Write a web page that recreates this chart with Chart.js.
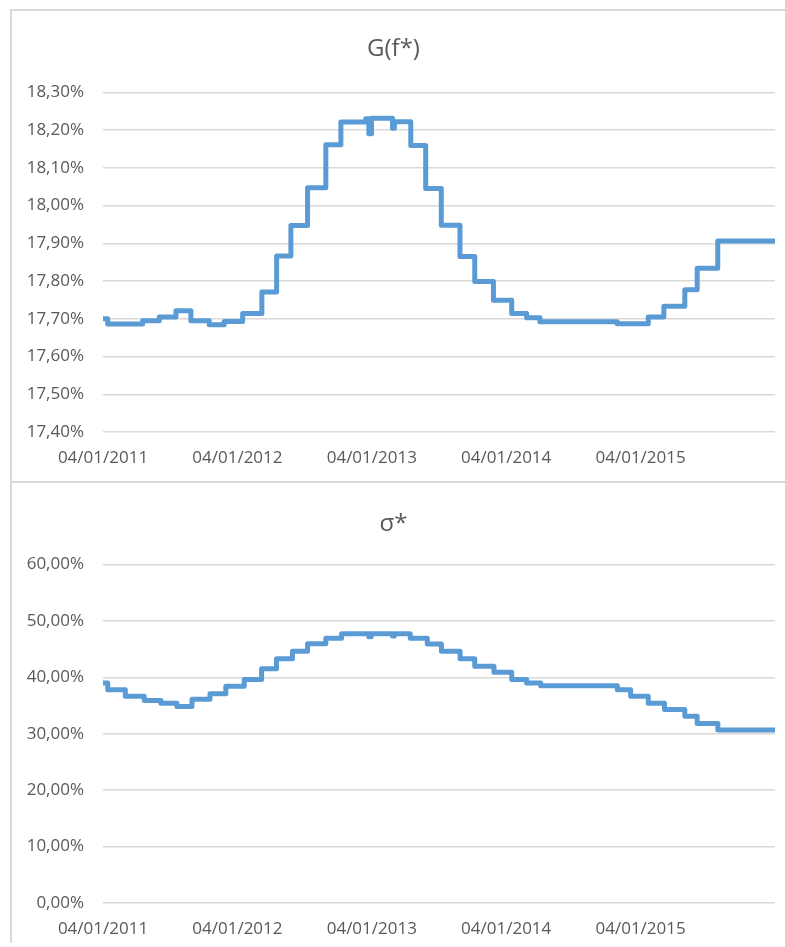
<!DOCTYPE html>
<html>
<head>
<meta charset="utf-8">
<script src="https://cdn.jsdelivr.net/npm/chart.js@4.4.1/dist/chart.umd.min.js"></script>
<style>
  html, body { margin: 0; padding: 0; background: #fff; }
  #frame {
    position: absolute; left: 10px; top: 9px; width: 773px; height: 932px;
    border-left: 2px solid #d9d9d9; border-top: 2px solid #d9d9d9;
  }
  .box { position: relative; width: 773px; }
</style>
</head>
<body>
<div id="frame">
  <div class="box" style="height:470px;"><canvas id="gChart"></canvas></div>
  <div class="box" style="height:460px;border-top:2px solid #d9d9d9;"><canvas id="sChart"></canvas></div>
</div>
<script>
// x positions are years after 04/01/2011, each point starts a new step
const xTickLabels = ['04/01/2011', '04/01/2012', '04/01/2013', '04/01/2014', '04/01/2015'];

// G(f*) in %
const gX = [0, 0.035, 0.295, 0.419, 0.543, 0.654, 0.790, 0.902, 1.039, 1.182, 1.292, 1.398, 1.522, 1.658, 1.770,
            1.955, 1.978, 1.998, 2.154, 2.168, 2.290, 2.401, 2.517, 2.656, 2.766, 2.905, 3.041, 3.152, 3.251,
            3.826, 4.057, 4.173, 4.329, 4.421, 4.574, 5.0];
const gY = [17.700, 17.686, 17.695, 17.705, 17.721, 17.695, 17.684, 17.693, 17.714, 17.771, 17.866, 17.947, 18.047, 18.161, 18.221,
            18.230, 18.190, 18.231, 18.205, 18.222, 18.159, 18.045, 17.948, 17.865, 17.799, 17.749, 17.714, 17.703, 17.692,
            17.687, 17.705, 17.733, 17.777, 17.834, 17.906, 17.906];

// sigma* in %
const sX = [0, 0.035, 0.166, 0.307, 0.431, 0.550, 0.662, 0.796, 0.914, 1.051, 1.180, 1.291, 1.410, 1.522, 1.658, 1.775,
            1.978, 1.995, 2.154, 2.168, 2.286, 2.413, 2.518, 2.657, 2.766, 2.909, 3.041, 3.152, 3.257,
            3.827, 3.926, 4.057, 4.178, 4.329, 4.421, 4.575, 5.0];
const sY = [39.0, 37.8, 36.65, 35.9, 35.4, 34.8, 36.1, 37.1, 38.4, 39.6, 41.5, 43.3, 44.6, 45.95, 46.9, 47.7,
            47.2, 47.7, 47.3, 47.7, 46.9, 45.9, 44.6, 43.3, 41.95, 40.9, 39.6, 39.0, 38.5,
            37.8, 36.65, 35.4, 34.3, 33.1, 31.8, 30.65, 30.65];

const FONT = "'Open Sans', 'Noto Sans', sans-serif";
const TEXT = '#595959';
const GRID = '#d9d9d9';
const LINE = '#5b9bd5';

function pct(v){ return (Math.round(v * 100) / 100).toFixed(2).replace('.', ',') + '%'; }

function makeChart(id, title, xs, ys, yMin, yMax, yStep, pad){
  const ctx = document.getElementById(id).getContext('2d');
  return new Chart(ctx, {
    type: 'line',
    data: {
      datasets: [{
        data: xs.map((x, i) => ({ x: x, y: ys[i] })),
        stepped: true,
        borderColor: LINE,
        borderWidth: 5,
        borderJoinStyle: 'round',
        borderCapStyle: 'round',
        pointRadius: 0,
        fill: false
      }]
    },
    options: {
      responsive: true,
      maintainAspectRatio: false,
      animation: false,
      layout: { padding: { top: pad.top, bottom: 0, left: 0, right: 10 } },
      plugins: {
        legend: { display: false },
        tooltip: { enabled: false },
        title: {
          display: true, text: title, color: TEXT,
          font: { family: FONT, size: 24, weight: 'normal' },
          padding: { top: 10, bottom: pad.titleBottom }
        }
      },
      scales: {
        x: {
          type: 'linear', min: 0, max: 5,
          grid: { display: false, drawTicks: false },
          border: { display: false },
          afterBuildTicks: (scale) => { scale.ticks = scale.ticks.filter(t => t.value < 5); },
          afterFit: (scale) => { scale.height = pad.xAxis; },
          ticks: {
            stepSize: 1, autoSkip: false, maxRotation: 0, padding: 16,
            color: TEXT, font: { family: FONT, size: 17 },
            callback: (v) => xTickLabels[v] || ''
          }
        },
        y: {
          min: yMin, max: yMax,
          afterFit: (scale) => { scale.width = 91; },
          grid: { color: GRID, lineWidth: 1.5, drawTicks: false },
          border: { display: false },
          ticks: {
            stepSize: yStep, padding: 19,
            color: TEXT, font: { family: FONT, size: 17 },
            callback: (v) => pct(v)
          }
        }
      }
    }
  });
}

makeChart('gChart', 'G(f*)', gX, gY, 17.40, 18.30, 0.10, { top: 14, titleBottom: 28.5, xAxis: 49 });
makeChart('sChart', 'σ*', sX, sY, 0, 60, 10, { top: 17, titleBottom: 25.6, xAxis: 40 });
</script>
</body>
</html>
